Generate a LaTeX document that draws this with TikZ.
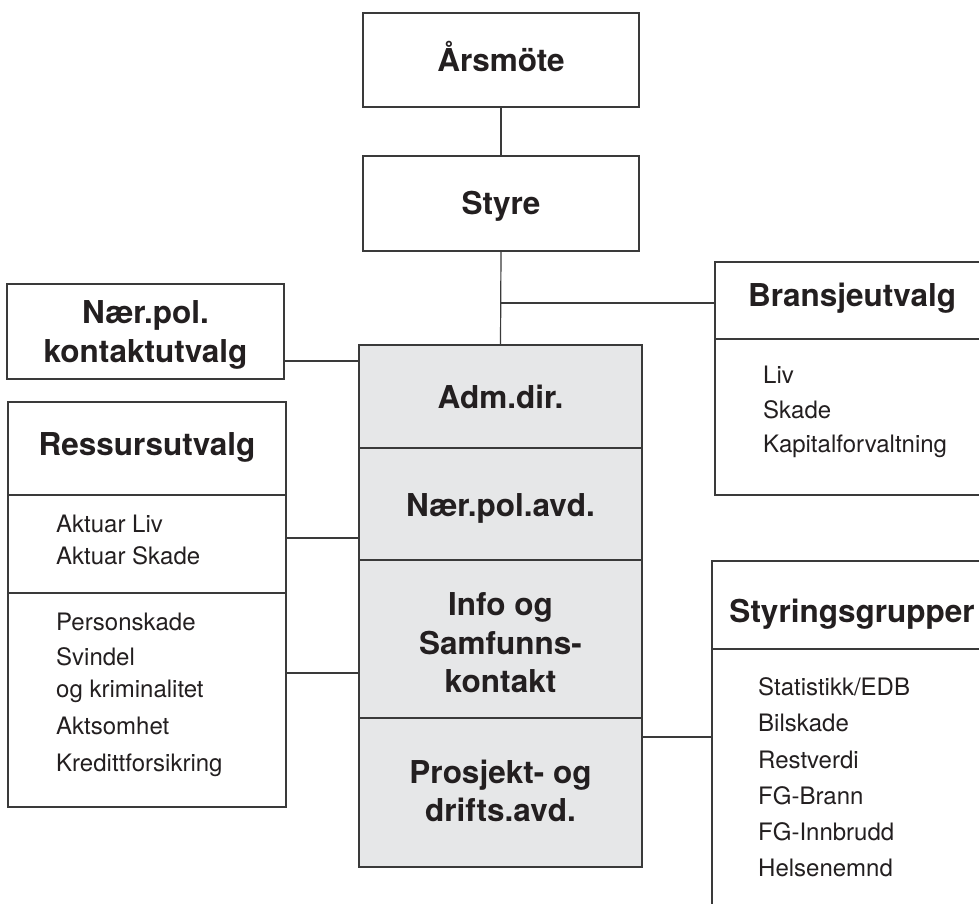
\documentclass[tikz,border=0pt]{standalone}
\usepackage{fontspec}
\setmainfont{TeX Gyre Heros}
\definecolor{linec}{HTML}{3A3A3A}
\definecolor{txt}{HTML}{231F20}
\definecolor{fillc}{HTML}{E6E7E8}
\tikzset{
  box/.style={draw=linec, line width=1.3pt, rectangle, inner sep=0pt},
  greybox/.style={box, fill=fillc},
  hdr/.style={font=\bfseries\fontsize{31.5}{38.5}\selectfont, text=txt, anchor=base, inner sep=0pt},
  item/.style={font=\fontsize{24}{29}\selectfont, text=txt, anchor=base west, inner sep=0pt},
  conn/.style={draw=linec, line width=1.2pt},
}
\begin{document}
\begin{tikzpicture}[x=1pt,y=-1pt]
\useasboundingbox (0,0) rectangle (979,903);
\clip (0,0) rectangle (979,903);
\fill[white] (0,0) rectangle (979,903);

% boxes
\node[box, minimum width=276pt, minimum height=94pt] (ars) at (501,60) {};
\node[box, minimum width=276pt, minimum height=95pt] (styre) at (501,203.5) {};
\node[box, minimum width=277pt, minimum height=95pt] (kontakt) at (145.5,331.5) {};

\node[greybox, minimum width=283pt, minimum height=103pt] (adm) at (500.5,396.5) {};
\node[greybox, minimum width=283pt, minimum height=112pt] (naer) at (500.5,504) {};
\node[greybox, minimum width=283pt, minimum height=158pt] (info) at (500.5,639) {};
\node[greybox, minimum width=283pt, minimum height=149pt] (prosj) at (500.5,792.5) {};

\node[box, minimum width=278pt, minimum height=93pt] (resh) at (147,448.5) {};
\node[box, minimum width=278pt, minimum height=98pt] (resa) at (147,544) {};
\node[box, minimum width=278pt, minimum height=214pt] (resb) at (147,700) {};

\node[box, minimum width=274pt, minimum height=77pt] (branh) at (852,300.5) {};
\node[box, minimum width=274pt, minimum height=156pt] (branb) at (852,417) {};

\node[box, minimum width=280pt, minimum height=88pt] (styh) at (852,605) {};
\node[box, minimum width=280pt, minimum height=302pt] (styb) at (852,800) {};

% connectors
\draw[conn] (ars.south) -- (styre.north);
\draw[conn] (styre.south) -- (adm.north);
\coordinate (b1) at (branh.west |- 0,303);
\draw[conn] (b1) -- (b1 -| styre.south);
\coordinate (k1) at (kontakt.east |- 0,361);
\draw[conn] (k1) -- (k1 -| adm.west);
\coordinate (r1) at (resa.east |- 0,538);
\draw[conn] (r1) -- (r1 -| naer.west);
\coordinate (r2) at (resb.east |- 0,673);
\draw[conn] (r2) -- (r2 -| info.west);
\coordinate (s1) at (prosj.east |- 0,737);
\draw[conn] (s1) -- (s1 -| styh.west);

% header texts
\node[hdr] (ars-t) at (501,71) {Årsmöte};
\node[hdr] (styre-t) at (501,214) {Styre};
\node[hdr] (kon-t1) at (145.5,323) {Nær.pol.};
\node[hdr] (kon-t2) at (145.5,362) {kontaktutvalg};
\node[hdr] (adm-t) at (500.5,408) {Adm.dir.};
\node[hdr] (naer-t) at (500.5,516) {Nær.pol.avd.};
\node[hdr] (info-t1) at (500.5,615) {Info og};
\node[hdr] (info-t2) at (500.5,654) {Samfunns-};
\node[hdr] (info-t3) at (500.5,692) {kontakt};
\node[hdr] (prosj-t1) at (500.5,783) {Prosjekt- og};
\node[hdr] (prosj-t2) at (500.5,821) {drifts.avd.};
\node[hdr] (res-t) at (147,455) {Ressursutvalg};
\node[hdr] (bran-t) at (852,306) {Bransjeutvalg};
\node[hdr] (sty-t) at (852,622) {Styringsgrupper};

% items
\node[item] (b-i1) at (763,383) {Liv};
\node[item] (b-i2) at (763,418) {Skade};
\node[item] (b-i3) at (763,452) {Kapitalforvaltning};

\node[item] (r-i1) at (56,532) {Aktuar Liv};
\node[item] (r-i2) at (56,564) {Aktuar Skade};
\node[item] (r-i3) at (56,630) {Personskade};
\node[item] (r-i4) at (56,665) {Svindel};
\node[item] (r-i5) at (56,697) {og kriminalitet};
\node[item] (r-i6) at (56,734) {Aktsomhet};
\node[item] (r-i7) at (56,771) {Kredittforsikring};

\node[item] (s-i1) at (758,695) {Statistikk/EDB};
\node[item] (s-i2) at (758,731.5) {Bilskade};
\node[item] (s-i3) at (758,768) {Restverdi};
\node[item] (s-i4) at (758,804.5) {FG-Brann};
\node[item] (s-i5) at (758,840) {FG-Innbrudd};
\node[item] (s-i6) at (758,876) {Helsenemnd};
\end{tikzpicture}
\end{document}
